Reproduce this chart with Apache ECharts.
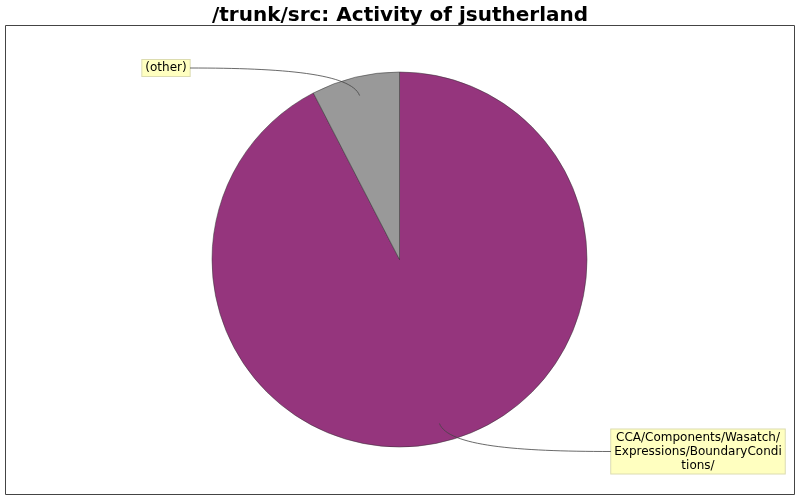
<!DOCTYPE html>
<html>
<head>
<meta charset="utf-8">
<script src="https://cdn.jsdelivr.net/npm/echarts@6/dist/echarts.min.js"></script>
<style>
  html, body { margin: 0; padding: 0; background: #fff; }
  #main { width: 800px; height: 500px; }
</style>
</head>
<body>
<div id="main"></div>
<script>
// 目录和占比
var dirNames = ['CCA/Components/Wasatch/\nExpressions/BoundaryCondi\ntions/', '(other)'];
var dirValues = [92.4, 7.6];
var dirColors = ['#95357d', '#999999'];

var myChart = echarts.init(document.getElementById('main'));

var pieCenter = [399.5, 259.5];
var pieRadius = 187.5;

var pieData = [];
for (var i = 0; i < dirNames.length; i++) {
    pieData.push({name: dirNames[i], value: dirValues[i], itemStyle: {color: dirColors[i]}});
}

// 每块扇形中间角度，用来算引线起点
var total = 0;
for (var i = 0; i < dirValues.length; i++) total += dirValues[i];
function anchorOf(idx) {
    var before = 0;
    for (var j = 0; j < idx; j++) before += dirValues[j];
    var theta = (before + dirValues[idx] / 2) / total * Math.PI * 2;
    var rr = pieRadius * 0.9;
    return [pieCenter[0] + rr * Math.sin(theta), pieCenter[1] - rr * Math.cos(theta)];
}

// 标签放的位置（跟原图一致），edge 是引线接标签的那一边
var labelPos = [
    {x: 698, y: 451.5, edge: 611},
    {x: 166, y: 68, edge: 190}
];

// 引线：从扇形里面弯到标签
var guideLines = [];
for (var i = 0; i < labelPos.length; i++) {
    var a = anchorOf(i);
    var ex = labelPos[i].edge, ly = labelPos[i].y;
    guideLines.push({
        type: 'bezierCurve',
        z: 100,
        silent: true,
        shape: {
            x1: a[0], y1: a[1],
            cpx1: a[0] + (ex - a[0]) * 0.05, cpy1: a[1] + (ly - a[1]) * 0.8,
            cpx2: ex + (a[0] - ex) * 0.55, cpy2: ly,
            x2: ex, y2: ly
        },
        style: {fill: null, stroke: '#444', lineWidth: 0.8}
    });
}

var option = {
    animation: false,
    title: {
        text: '/trunk/src: Activity of jsutherland',
        left: 'center',
        top: 1,
        textStyle: {fontFamily: 'DejaVu Sans', fontSize: 20, fontWeight: 'bold', color: '#000'}
    },
    graphic: [{
        type: 'rect',
        shape: {x: 5.5, y: 25.5, width: 789, height: 469},
        style: {fill: null, stroke: '#444', lineWidth: 1},
        z: -1
    }].concat(guideLines),
    series: [{
        type: 'pie',
        center: pieCenter,
        radius: pieRadius,
        startAngle: 90,
        clockwise: true,
        data: pieData,
        itemStyle: {borderColor: '#333', borderWidth: 0.5},
        label: {
            show: true,
            fontFamily: 'DejaVu Sans',
            fontSize: 12,
            lineHeight: 14,
            color: '#000',
            align: 'center',
            backgroundColor: '#ffffc0',
            borderColor: '#dcdcb0',
            borderWidth: 1,
            padding: [1, 3]
        },
        labelLine: {show: false},
        labelLayout: function (params) {
            var p = labelPos[params.dataIndex];
            return {x: p.x, y: p.y, align: 'center', verticalAlign: 'middle'};
        },
        emphasis: {disabled: true}
    }]
};

myChart.setOption(option);
</script>
</body>
</html>
